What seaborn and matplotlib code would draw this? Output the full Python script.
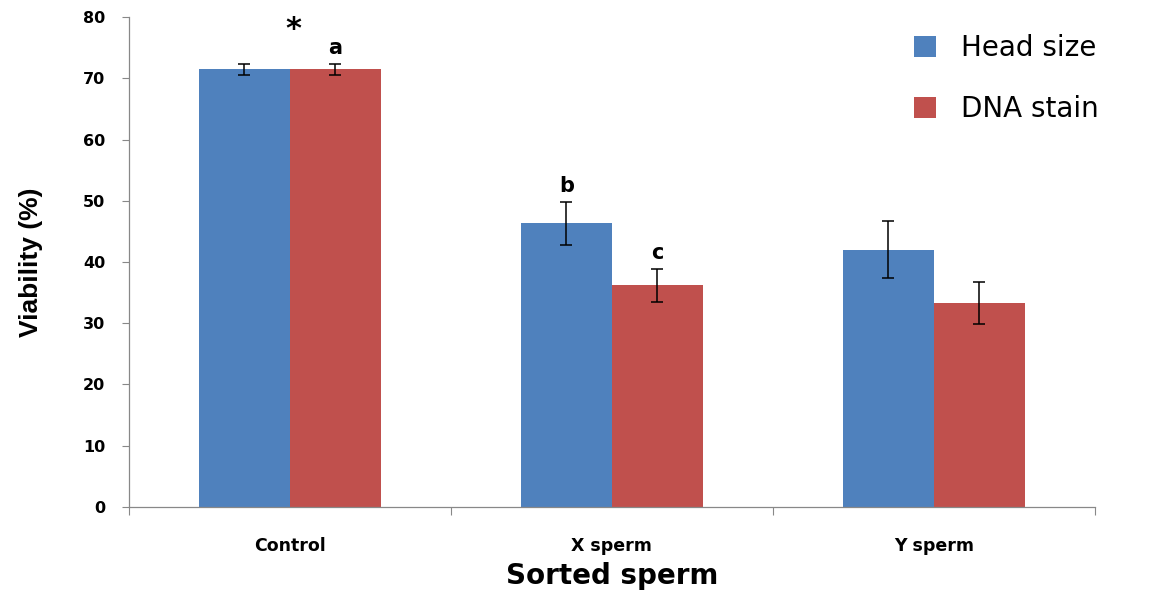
import numpy as np
import pandas as pd
import matplotlib
matplotlib.use("Agg")
import matplotlib.pyplot as plt
import seaborn as sns
from matplotlib.patches import Patch

# Viability of sorted sperm by sorting method (mean ± error)
groups = ["Control", "X sperm", "Y sperm"]
methods = ["Head size", "DNA stain"]
head_size = [71.5, 46.3, 42.0]
head_size_err = [0.9, 3.5, 4.7]
dna_stain = [71.5, 36.2, 33.3]
dna_stain_err = [0.9, 2.7, 3.5]
letters_head = ["", "b", ""]
letters_dna = ["a", "c", ""]

colors = {"Head size": "#4F81BD", "DNA stain": "#C0504D"}

df = pd.DataFrame({
    "group": groups * 2,
    "method": [methods[0]] * 3 + [methods[1]] * 3,
    "viability": head_size + dna_stain,
    "err": head_size_err + dna_stain_err,
})

sns.set_theme(style="white")
plt.rcParams["font.family"] = ["DejaVu Sans"]
plt.rcParams["text.color"] = "black"
plt.rcParams["axes.labelcolor"] = "black"
plt.rcParams["xtick.color"] = "black"
plt.rcParams["ytick.color"] = "black"

fig = plt.figure(figsize=(11.5, 5.9), dpi=100)
ax = fig.add_axes([0.112, 0.141, 0.840, 0.830])

sns.barplot(data=df, x="group", y="viability", hue="method", order=groups,
            hue_order=methods, palette=colors, width=0.565, errorbar=None,
            saturation=1, linewidth=0, ax=ax, legend=False)

# Error bars and significance letters at the centre of each bar
for cont, vals, errs, letters in zip(ax.containers, [head_size, dna_stain],
                                     [head_size_err, dna_stain_err],
                                     [letters_head, letters_dna]):
    xs = [p.get_x() + p.get_width() / 2 for p in cont.patches]
    ax.errorbar(xs, vals, yerr=errs, fmt="none", ecolor="black",
                elinewidth=1.1, capsize=4, capthick=1.1, zorder=5)
    for x, v, e, t in zip(xs, vals, errs, letters):
        if t:
            ax.text(x, v + e + 1.0, t, ha="center", va="bottom",
                    fontsize=15, fontweight="bold", color="black")

ax.text(0.01, 75.6, "*", ha="center", va="bottom", fontsize=22,
        fontweight="bold", color="black")

ax.set_ylim(0, 80)
ax.set_xlim(-0.5, 2.5)
ax.set_yticks(np.arange(0, 81, 10))
ax.tick_params(axis="y", which="major", left=True, length=5, width=0.8,
               color="#888888", labelsize=11.5, pad=12, labelcolor="black")
for lbl in ax.get_yticklabels():
    lbl.set_fontweight("bold")

ax.set_xticks(range(3))
ax.set_xticklabels(groups, fontsize=12.5, fontweight="bold")
ax.tick_params(axis="x", which="major", bottom=False, length=0, pad=22,
               labelcolor="black")
ax.set_xticks([-0.5, 0.5, 1.5, 2.5], minor=True)
ax.tick_params(axis="x", which="minor", bottom=True, length=6, width=0.8,
               color="#888888")

for side in ["top", "right"]:
    ax.spines[side].set_visible(False)
for side in ["left", "bottom"]:
    ax.spines[side].set_color("#888888")
    ax.spines[side].set_linewidth(0.9)

ax.set_xlabel("Sorted sperm", fontsize=20, fontweight="bold", labelpad=5)
ax.set_ylabel("Viability (%)", fontsize=19, fontweight="bold",
              family=["Liberation Sans", "DejaVu Sans"], labelpad=29)

handles = [Patch(facecolor=colors[m], edgecolor="none") for m in methods]
fig.legend(handles, methods, loc="upper left", bbox_to_anchor=(0.773, 0.985),
           frameon=False, fontsize=20, handlelength=0.8, handleheight=0.8,
           handletextpad=0.9, labelspacing=1.2)

fig.savefig("out.png", dpi=100)
